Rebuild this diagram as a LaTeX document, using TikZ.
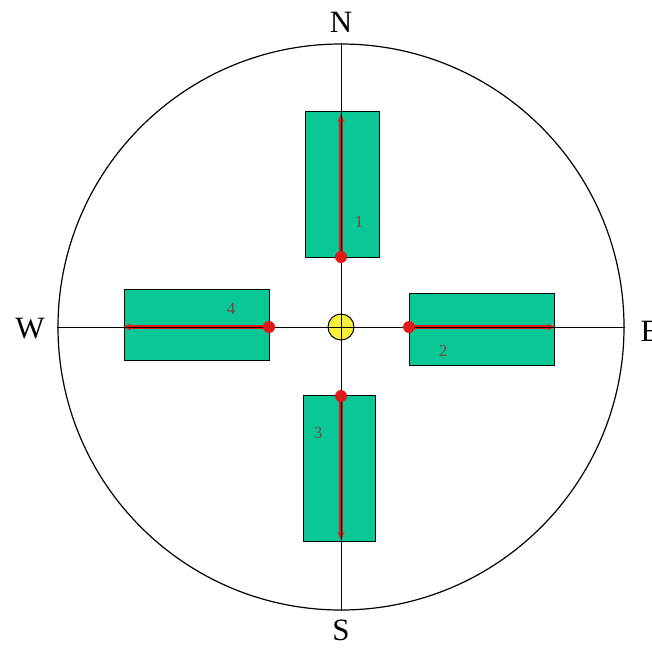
\documentclass[tikz,border=0pt]{standalone}
\usepackage{fontspec}
\setmainfont{Liberation Serif}
\usetikzlibrary{positioning,arrows.meta}
\definecolor{padgreen}{RGB}{10,200,150}
\definecolor{flowred}{RGB}{225,25,25}
\definecolor{numgray}{RGB}{120,70,70}
\definecolor{hubyellow}{RGB}{250,240,60}

\begin{document}
\begin{tikzpicture}[x=1pt,y=-1pt,
    pad/.style={draw, line width=1pt, fill=padgreen, inner sep=0pt},
    flow/.style={flowred, line width=3.5pt, -{Stealth[length=8pt,width=7pt]}},
    num/.style={numgray, font=\fontsize{17}{19}\selectfont},
    compass/.style={font=\fontsize{31}{33}\selectfont}]
    \useasboundingbox (0,0) rectangle (652,649);

    % Outer ring
    \node[circle, draw, line width=1.2pt, minimum size=566pt, inner sep=0pt] (ring) at (341,327) {};

    % Pads
    \node[pad, minimum width=74pt, minimum height=146pt] (pad1) at (342,184) {};
    \node[pad, minimum width=145pt, minimum height=72pt] (pad2) at (481.5,329) {};
    \node[pad, minimum width=72pt, minimum height=146pt] (pad3) at (339,468) {};
    \node[pad, minimum width=145pt, minimum height=71pt] (pad4) at (196.5,324.5) {};

    % Flow start points and tips
    \coordinate (s1) at (341,257);
    \coordinate (t1) at (341,114);
    \coordinate (s2) at (409,327);
    \coordinate (t2) at (555,327);
    \coordinate (s3) at (341,396);
    \coordinate (t3) at (341,540);
    \coordinate (s4) at (269,327);
    \coordinate (t4) at (123,327);

    % Flows
    \draw[flow] (s1) -- (t1);
    \draw[flow] (s2) -- (t2);
    \draw[flow] (s3) -- (t3);
    \draw[flow] (s4) -- (t4);

    % Centre marker
    \node[circle, draw, line width=1pt, fill=hubyellow, minimum size=26pt, inner sep=0pt] (hub) at (341,327) {};

    % Axes
    \draw[line width=1pt] (ring.north) -- (ring.south);
    \draw[line width=1pt] (ring.west) -- (ring.east);

    % Start dots
    \foreach \p in {s1,s2,s3,s4}
        \fill[flowred] (\p) circle (6pt);

    % Pad numbers
    \node[num] (n1) at (359,222) {1};
    \node[num] (n2) at (443,351) {2};
    \node[num] (n3) at (318,433) {3};
    \node[num] (n4) at (231,309) {4};

    % Compass points
    \node[compass] (north) at (341,22) {N};
    \node[compass] (south) at (341,630) {S};
    \node[compass] (west) at (30,329) {W};
    \node[compass] (east) at (650,331) {E};
\end{tikzpicture}
\end{document}
